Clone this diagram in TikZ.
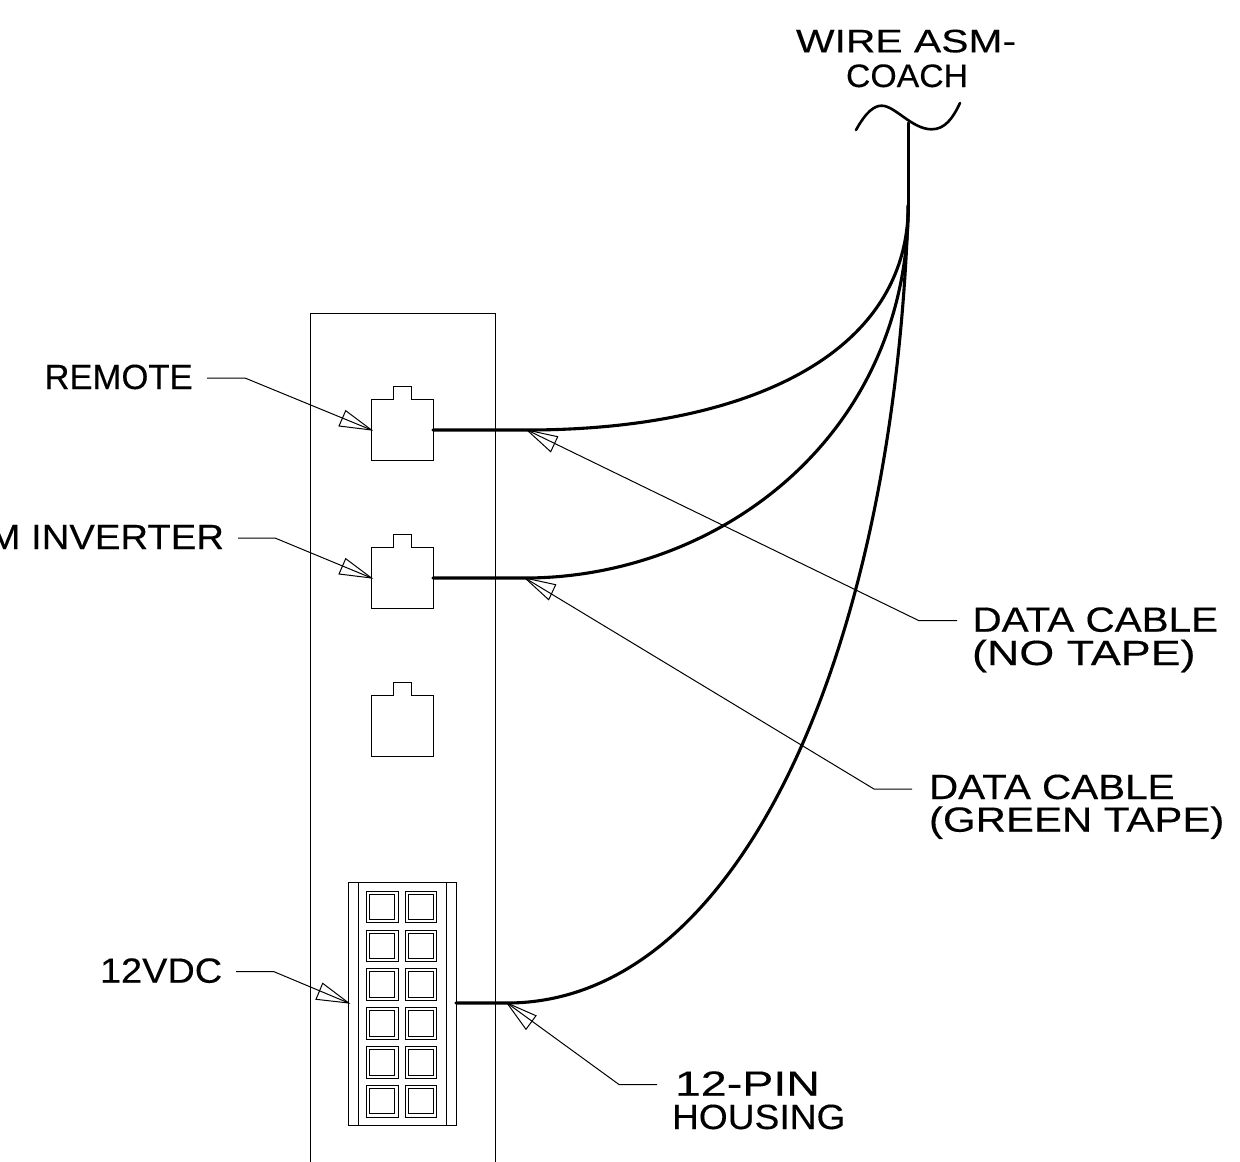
\documentclass[tikz,border=0pt]{standalone}
\usepackage{fontspec}
\setmainfont{Liberation Sans}[FakeBold=0.25]
\newcommand{\stretched}[2]{\scalebox{#1}[1]{#2}}
\tikzset{
  thinline/.style={draw=black,line width=1pt,line join=miter},
  wire/.style={draw=black,line width=3.1pt,line cap=round},
  squig/.style={draw=black,line width=2.6pt,line cap=round},
  lab/.style={inner sep=0pt,outer sep=0pt,anchor=base west,font=\fontsize{35}{35}\selectfont},
  labsmall/.style={inner sep=0pt,outer sep=0pt,anchor=base west,font=\fontsize{32.5}{32.5}\selectfont},
}
\begin{document}
\begin{tikzpicture}[x=1pt,y=-1pt]
\path[use as bounding box,clip] (0,0) rectangle (1240,1162);
\fill[white] (0,0) rectangle (1240,1162);

% panel
\draw[thinline] (310,1162) -- (310,313) -- (495,313) -- (495,1162);

% modular connectors
\foreach \dy/\nm in {0/a,148/b,296/c}{
  \begin{scope}[yshift=-\dy pt]
    \draw[thinline] (371.5,460.5) -- (371.5,399.5) -- (393,399.5) -- (393,386.7) -- (411.7,386.7) -- (411.7,399.5) -- (433,399.5) -- (433,460.5) -- cycle;
  \end{scope}
}
\coordinate (remoteIn) at (371.5,430);
\coordinate (remoteOut) at (433,430);
\coordinate (invIn) at (371.5,578);
\coordinate (invOut) at (433,578);

% 12-pin housing
\draw[thinline] (348.7,882) rectangle (456,1125.7);
\draw[thinline] (358.3,882) -- (358.3,1125.7);
\draw[thinline] (446.7,882) -- (446.7,1125.7);
\foreach \ry in {891,930,968.7,1007.7,1046.7,1085.3}{
  \foreach \cx in {366.3,405}{
    \draw[thinline] (\cx,\ry) rectangle ++(31.7,31.7);
    \draw[thinline] (\cx+3.2,\ry+3.2) rectangle ++(25.3,25.3);
  }
}
\coordinate (pinIn) at (348.7,1003);
\coordinate (pinOut) at (456,1003);

% cable
\coordinate (trunkTop) at (908.3,123);
\coordinate (trunk) at (908.3,205);
\coordinate (w1) at (527,430);
\coordinate (w2) at (525,578);
\coordinate (w3) at (507,1003);
\draw[squig] (856,130) .. controls (866,112) and (874,105.7) .. (881.7,105.7)
  .. controls (895,105.7) and (912,129.3) .. (931.7,129.3)
  .. controls (945,129.3) and (953,118) .. (960,103);
\draw[wire] (trunkTop) -- (trunk);
\draw[wire] (remoteOut) -- (w1) .. controls (737,430) and (908,360) .. (trunk);
\draw[wire] (invOut) -- (w2) .. controls (715,578) and (908,440) .. (trunk);
\draw[wire] (pinOut) -- (w3) .. controls (740,1003) and (895,650) .. (trunk);

% leaders
\coordinate (r1) at (207,378); \coordinate (r2) at (245,378);
\draw[thinline] (r1) -- (r2) -- (remoteIn);
\draw[thinline] (remoteIn) -- (345.7,410.7) -- (339,426) -- cycle;
\coordinate (i1) at (238,538); \coordinate (i2) at (275,538);
\draw[thinline] (i1) -- (i2) -- (invIn);
\draw[thinline] (invIn) -- (345.7,558.7) -- (339,574) -- cycle;
\coordinate (v1) at (236,971.7); \coordinate (v2) at (274,971.7);
\draw[thinline] (v1) -- (v2) -- (pinIn);
\draw[thinline] (pinIn) -- (322.7,983.3) -- (316,999.3) -- cycle;
\coordinate (n1) at (957,620.7); \coordinate (n2) at (919,620.7);
\draw[thinline] (n1) -- (n2) -- (w1);
\draw[thinline] (w1) -- (557.7,436.7) -- (550.7,451.7) -- cycle;
\coordinate (g1) at (912,789); \coordinate (g2) at (874,789);
\draw[thinline] (g1) -- (g2) -- (w2);
\draw[thinline] (w2) -- (555.7,584.7) -- (548.7,599.7) -- cycle;
\coordinate (h1) at (657,1084.5); \coordinate (h2) at (619,1084.5);
\draw[thinline] (h1) -- (h2) -- (w3);
\draw[thinline] (w3) -- (536,1015.7) -- (526,1029.3) -- cycle;

% labels
\node[labsmall] (wireasm) at (796,52.3) {\stretched{1.257}{WIRE ASM-}};
\node[labsmall] (coach) at (846,87) {\stretched{1.04}{COACH}};
\node[lab] (remote) at (44.5,389) {\stretched{0.99}{REMOTE}};
\node[lab,anchor=base east] (inverter) at (224,549) {\stretched{1.094}{M INVERTER}};
\node[lab] (data1) at (972.5,631.7) {\stretched{1.155}{DATA CABLE}};
\node[lab] (notape) at (972,665) {\stretched{1.282}{(NO TAPE)}};
\node[lab] (data2) at (929,799) {\stretched{1.155}{DATA CABLE}};
\node[lab] (green) at (929,831.7) {\stretched{1.199}{(GREEN TAPE)}};
\node[lab] (vdc) at (100,982.7) {\stretched{1.083}{12VDC}};
\node[lab] (pin) at (675,1095.7) {\stretched{1.33}{12-PIN}};
\node[lab] (housing) at (672,1129) {\stretched{1.062}{HOUSING}};
\end{tikzpicture}
\end{document}
